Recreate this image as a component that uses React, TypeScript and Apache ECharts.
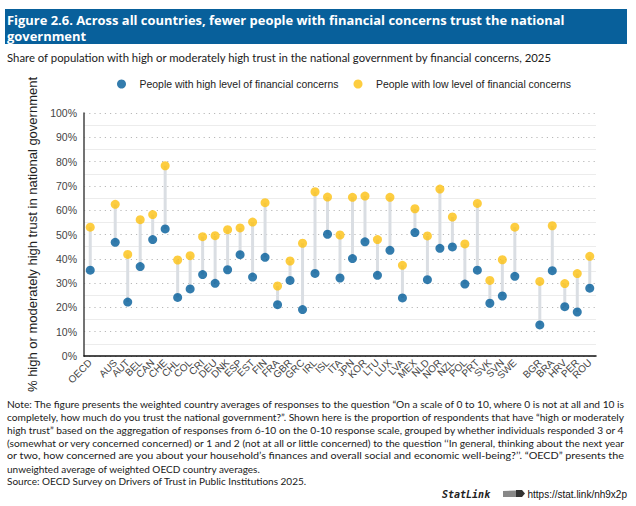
import React, { useEffect, useRef } from "react";
import * as echarts from "echarts";

const categories = [
  "OECD", "",
  "AUS", "AUT", "BEL", "CAN", "CHE", "CHL", "COL", "CRI", "DEU", "DNK", "ESP", "EST",
  "FIN", "FRA", "GBR", "GRC", "IRL", "ISL", "ITA", "JPN", "KOR", "LTU", "LUX", "LVA",
  "MEX", "NLD", "NOR", "NZL", "POL", "PRT", "SVK", "SVN", "SWE", "",
  "BGR", "BRA", "HRV", "PER", "ROU",
];

const highConcern = [
  35.3, null,
  46.8, 22.2, 36.8, 47.9, 52.3, 24.1, 27.6, 33.5, 29.9, 35.5, 41.7, 32.5,
  40.6, 21.1, 31.1, 19.1, 34.0, 50.1, 32.1, 40.1, 47.0, 33.2, 43.5, 23.9,
  50.8, 31.4, 44.3, 44.9, 29.6, 35.3, 21.7, 24.7, 32.8, null,
  12.8, 35.1, 20.3, 18.1, 27.9,
];

const lowConcern = [
  53.0, null,
  62.4, 41.8, 56.1, 58.2, 78.3, 39.5, 41.3, 49.1, 49.5, 52.0, 52.7, 55.1,
  63.1, 28.8, 39.1, 46.4, 67.6, 65.4, 49.8, 65.3, 65.8, 47.9, 65.3, 37.3,
  60.6, 49.4, 68.7, 57.2, 46.1, 62.8, 31.1, 39.6, 53.0, null,
  30.7, 53.6, 29.8, 33.9, 41.0,
];

const seriesNames = [
  "People with high level of financial concerns",
  "People with low level of financial concerns",
];

const titleLines = [
  "Figure 2.6. Across all countries, fewer people with financial concerns trust the national",
  "government",
];
const subtitle =
  "Share of population with high or moderately high trust in the national government by financial concerns, 2025";
const yAxisName = "% high or moderately high trust in national government";

const noteLines = [
  "Note: The figure presents the weighted country averages of responses to the question “On a scale of 0 to 10, where 0 is not at all and 10 is",
  "completely, how much do you trust the national government?”. Shown here is the proportion of respondents that have “high or moderately",
  "high trust” based on the aggregation of responses from 6-10 on the 0-10 response scale, grouped by whether individuals responded 3 or 4",
  "(somewhat or very concerned concerned) or 1 and 2 (not at all or little concerned) to the question ‘‘In general, thinking about the next year",
  "or two, how concerned are you about your household’s finances and overall social and economic well-being?’’. “OECD” presents the",
  "unweighted average of weighted OECD country averages.",
  "Source: OECD Survey on Drivers of Trust in Public Institutions 2025.",
];
const justifiedNoteLines = 5;
const statLinkUrl = "https://stat.link/nh9x2p";

const BLUE = "#005b98";
const YELLOW = "#fcc010";
const ARIAL = "Liberation Sans";

function measure(text: string, size: number, family: string, weight = "normal"): number {
  const c = document.createElement("canvas");
  const ctx = c.getContext("2d");
  if (!ctx) return 0;
  ctx.font = `${weight} ${size}px ${family}`;
  return ctx.measureText(text).width;
}

function fitSize(text: string, base: number, family: string, target: number, weight = "normal") {
  const w = measure(text, base, family, weight);
  return w > 0 ? (base * target) / w : base;
}

export default function App() {
  const ref = useRef<HTMLDivElement>(null);

  useEffect(() => {
    document.body.style.margin = "0";
    if (!ref.current) return;
    const chart = echarts.init(ref.current, null, { renderer: "svg" });

    const toVal = (v: number | null) => (v === null ? "-" : v);
    const connectors = categories
      .map((_, i) => [i, highConcern[i], lowConcern[i]])
      .filter((d) => d[1] !== null && d[2] !== null);

    const noteSize = 10;
    const noteWidth = 619;
    const sxs: number[] = noteLines.map((t, i) => {
      if (i >= justifiedNoteLines) return 1;
      const w = measure(t, noteSize, "Lato");
      return w > 0 ? noteWidth / w : 1;
    });
    const titleSize = Math.min(15, fitSize(titleLines[0], 14, "Open Sans", 558, "bold"));
    const subSize = Math.min(12.5, fitSize(subtitle, 11, "Lato", 546));

    const graphics: any[] = [
      {
        type: "rect",
        shape: { x: 5, y: 9, width: 622, height: 35 },
        style: { fill: "#08609b" },
        silent: true,
      },
      ...titleLines.map((t, i) => ({
        type: "text",
        x: 7,
        y: 19.5 + i * 16.5,
        style: {
          text: t,
          fill: "#ffffff",
          fontFamily: "Open Sans",
          fontWeight: "bold",
          fontSize: titleSize,
          verticalAlign: "middle",
        },
      })),
      {
        type: "text",
        x: 7,
        y: 57,
        style: {
          text: subtitle,
          fill: "#1a1a1a",
          fontFamily: "Lato",
          fontSize: subSize,
          verticalAlign: "middle",
        },
      },
      ...noteLines.map((t, i) => ({
        type: "text",
        x: 7,
        y: 404 + i * 12.9,
        scaleX: sxs[i],
        style: {
          text: t,
          fill: "#1a1a1a",
          fontFamily: "Lato",
          fontSize: noteSize,
          verticalAlign: "middle",
        },
      })),
      {
        type: "text",
        x: 442,
        y: 494,
        style: {
          text: "StatLink",
          fill: "#222",
          fontFamily: "DejaVu Sans Mono",
          fontStyle: "italic",
          fontWeight: "bold",
          fontSize: 10,
          verticalAlign: "middle",
        },
      },
      {
        type: "polygon",
        shape: { points: [[503, 491], [516, 490.5], [516, 497], [503, 497]] },
        style: { fill: "#888" },
      },
      {
        type: "polygon",
        shape: { points: [[516, 490], [522, 490], [525, 493.5], [522, 497], [516, 497]] },
        style: { fill: "#333" },
      },
      {
        type: "text",
        x: 627,
        y: 494,
        style: {
          text: statLinkUrl,
          fill: "#111",
          fontFamily: ARIAL,
          fontSize: 10,
          align: "right",
          verticalAlign: "middle",
        },
      },
    ];

    const option: any = {
      animation: false,
      graphic: graphics,
      legend: {
        data: seriesNames,
        left: 112,
        top: 74,
        icon: "circle",
        itemWidth: 12,
        itemHeight: 9,
        itemGap: 15,
        textStyle: {
          fontFamily: ARIAL,
          fontSize: 10.45,
          color: "#222",
          padding: [0, 0, 0, 7],
        },
      },
      grid: { left: 84, right: 40, top: 113, bottom: 150, containLabel: false },
      xAxis: {
        type: "category",
        data: categories,
        boundaryGap: true,
        axisLine: { lineStyle: { color: "#111", width: 1.5 } },
        axisTick: { show: false },
        axisLabel: {
          interval: 0,
          rotate: 45,
          fontFamily: ARIAL,
          fontSize: 10,
          color: "#444",
          margin: 5,
        },
      },
      yAxis: {
        type: "value",
        min: 0,
        max: 100,
        interval: 10,
        name: yAxisName,
        nameLocation: "middle",
        nameGap: 31,
        nameTextStyle: { fontFamily: ARIAL, fontSize: 13, color: "#222" },
        axisLine: { show: true, lineStyle: { color: "#444", width: 1.5 } },
        axisTick: { show: false },
        axisLabel: {
          formatter: "{value}%",
          fontFamily: ARIAL,
          fontSize: 10.5,
          color: "#444",
          margin: 7,
        },
        splitLine: { lineStyle: { color: "#b8b8b8", type: [1.2, 4], width: 1 } },
        minorTick: { show: false, splitNumber: 2 },
        minorSplitLine: { show: true, lineStyle: { color: "#ececec", width: 1 } },
      },
      series: [
        {
          type: "custom",
          name: "range",
          silent: true,
          data: connectors,
          encode: { x: 0, y: [1, 2] },
          renderItem: (params: any, api: any) => {
            const p1 = api.coord([api.value(0), api.value(1)]);
            const p2 = api.coord([api.value(0), api.value(2)]);
            return {
              type: "line",
              shape: { x1: p1[0], y1: p1[1], x2: p2[0], y2: p2[1] },
              style: { stroke: "#dadee3", lineWidth: 3 },
            };
          },
          z: 1,
        },
        {
          type: "scatter",
          name: seriesNames[0],
          data: highConcern.map(toVal),
          symbol: "circle",
          symbolSize: 9,
          itemStyle: { color: BLUE },
          z: 3,
        },
        {
          type: "scatter",
          name: seriesNames[1],
          data: lowConcern.map(toVal),
          symbol: "circle",
          symbolSize: 9,
          itemStyle: { color: YELLOW },
          z: 3,
        },
      ],
    };

    chart.setOption(option);
    return () => chart.dispose();
  }, []);

  return <div ref={ref} style={{ width: 636, height: 506 }} />;
}
